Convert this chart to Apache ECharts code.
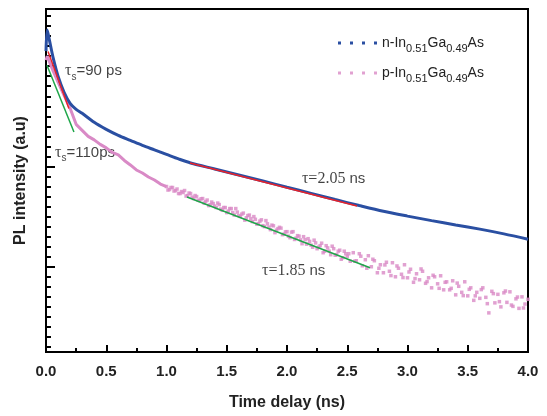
<!DOCTYPE html>
<html>
<head>
<meta charset="utf-8">
<script src="https://cdn.jsdelivr.net/npm/echarts@6/dist/echarts.min.js"></script>
<style>
html,body{margin:0;padding:0;background:#fff;}
#chart{width:547px;height:416px;}
</style>
</head>
<body>
<div id="chart"></div>
<script>
// log10 of PL intensity (a.u.)
var tBlue = [0, 0.01, 0.03, 0.06, 0.1, 0.15, 0.2, 0.25, 0.3, 0.4, 0.5, 0.6, 0.7, 0.8, 0.9, 1.0, 1.1, 1.2, 1.4, 1.6, 1.8, 2.0, 2.2, 2.4, 2.6, 2.8, 3.0, 3.2, 3.4, 3.6, 3.8, 4.0];
var logBlue = [3.15, 3.36, 3.25, 3.08, 2.9, 2.74, 2.63, 2.57, 2.53, 2.44, 2.37, 2.31, 2.26, 2.21, 2.165, 2.12, 2.075, 2.035, 1.975, 1.915, 1.855, 1.793, 1.732, 1.67, 1.61, 1.553, 1.505, 1.46, 1.417, 1.375, 1.328, 1.275];

var tPinkEarly = [0, 0.01, 0.03, 0.06, 0.1, 0.15, 0.2, 0.25, 0.3, 0.35, 0.4, 0.45, 0.5, 0.55, 0.6, 0.65, 0.7, 0.75, 0.8, 0.85, 0.9, 0.95, 1.0];
var logPinkEarly = [3.06, 3.1, 3.04, 2.95, 2.84, 2.71, 2.58, 2.42, 2.36, 2.3, 2.265, 2.22, 2.185, 2.14, 2.115, 2.06, 2.015, 1.965, 1.935, 1.895, 1.865, 1.825, 1.8];

var tPink = [1.0, 1.025, 1.05, 1.075, 1.1, 1.125, 1.15, 1.175, 1.2, 1.225, 1.25, 1.275, 1.3, 1.325, 1.35, 1.375, 1.4, 1.425, 1.45, 1.475,
  1.5, 1.525, 1.55, 1.575, 1.6, 1.625, 1.65, 1.675, 1.7, 1.725, 1.75, 1.775, 1.8, 1.825, 1.85, 1.875, 1.9, 1.925, 1.95, 1.975,
  2.0, 2.025, 2.05, 2.075, 2.1, 2.125, 2.15, 2.175, 2.2, 2.225, 2.25, 2.275, 2.3, 2.325, 2.35, 2.375, 2.4, 2.425, 2.45, 2.475,
  2.5, 2.525, 2.55, 2.575, 2.6, 2.625, 2.65, 2.675, 2.7, 2.725, 2.75, 2.775, 2.8, 2.825, 2.85, 2.875, 2.9, 2.925, 2.95, 2.975,
  3.0, 3.025, 3.05, 3.075, 3.1, 3.125, 3.15, 3.175, 3.2, 3.225, 3.25, 3.275, 3.3, 3.325, 3.35, 3.375, 3.4, 3.425, 3.45, 3.475,
  3.5, 3.525, 3.55, 3.575, 3.6, 3.625, 3.65, 3.675, 3.7, 3.725, 3.75, 3.775, 3.8, 3.825, 3.85, 3.875, 3.9, 3.925, 3.95, 3.975, 4.0,
  2.5125, 2.5625, 2.6125, 2.6625, 2.7125, 2.7625, 2.8125, 2.8625, 2.9125, 2.9625, 3.0125, 3.0625, 3.1125, 3.1625, 3.2125,
  3.2625, 3.3125, 3.3625, 3.4125, 3.4625, 3.5125, 3.5625, 3.6125, 3.6625, 3.7125, 3.7625, 3.8125, 3.8625, 3.9125, 3.9625,
  1.0125, 1.0375, 1.0625, 1.0875, 1.1125, 1.1375, 1.1625, 1.1875, 1.2125, 1.2375, 1.2625, 1.2875, 1.3125, 1.3375, 1.3625,
  1.3875, 1.4125, 1.4375, 1.4625, 1.4875, 1.5125, 1.5375, 1.5625, 1.5875, 1.6125, 1.6375, 1.6625, 1.6875, 1.7125, 1.7375,
  1.7625, 1.7875, 1.8125, 1.8375, 1.8625, 1.8875, 1.9125, 1.9375, 1.9625, 1.9875, 2.0125, 2.0375, 2.0625, 2.0875, 2.1125,
  2.1375, 2.1625, 2.1875, 2.2125, 2.2375, 2.2625, 2.2875, 2.3125, 2.3375, 2.3625, 2.3875, 2.4125, 2.4375, 2.4625, 2.4875];
var logPink = [1.80, 1.77, 1.79, 1.76, 1.73, 1.75, 1.76, 1.71, 1.73, 1.68, 1.70, 1.66, 1.68, 1.65, 1.61, 1.645, 1.605, 1.635, 1.575, 1.59,
  1.54, 1.58, 1.54, 1.58, 1.51, 1.525, 1.465, 1.51, 1.48, 1.50, 1.425, 1.455, 1.41, 1.46, 1.395, 1.415, 1.34, 1.38, 1.385, 1.325,
  1.35, 1.29, 1.35, 1.285, 1.305, 1.23, 1.27, 1.28, 1.215, 1.265, 1.18, 1.21, 1.14, 1.21, 1.155, 1.205, 1.115, 1.155, 1.075, 1.155,
  1.105, 1.055, 1.14, 1.06, 1.13, 1.01, 1.07, 1.11, 1.0, 1.06, 0.94, 1.02, 0.94, 1.045, 0.955, 1.04, 0.90, 0.985, 0.925, 1.02,
  0.89, 0.975, 0.845, 0.93, 0.87, 0.955, 0.835, 0.89, 0.79, 0.90, 0.83, 0.91, 0.77, 0.85, 0.77, 0.86, 0.72, 0.805, 0.745, 0.85,
  0.71, 0.79, 0.665, 0.745, 0.685, 0.79, 0.695, 0.54, 0.755, 0.64, 0.725, 0.60, 0.74, 0.645, 0.75, 0.605, 0.68, 0.585, 0.70, 0.628, 0.675,
  1.13, 1.055, 1.105, 0.985, 1.075, 0.985, 1.018, 0.912, 1.008, 0.892, 0.948, 0.882, 0.978, 0.852, 0.915,
  0.785, 0.845, 0.785, 0.837, 0.712, 0.775, 0.71, 0.772, 0.632, 0.732, 0.652, 0.758, 0.618, 0.698, 0.589,
  1.765, 1.79, 1.755, 1.775, 1.73, 1.74, 1.705, 1.735, 1.695, 1.71, 1.663, 1.678, 1.635, 1.665, 1.618,
  1.63, 1.59, 1.62, 1.563, 1.59, 1.555, 1.58, 1.515, 1.545, 1.502, 1.535, 1.488, 1.515, 1.45, 1.473,
  1.43, 1.468, 1.4, 1.428, 1.37, 1.408, 1.365, 1.393, 1.32, 1.348, 1.305, 1.345, 1.272, 1.31, 1.268,
  1.3, 1.225, 1.253, 1.195, 1.238, 1.195, 1.235, 1.155, 1.188, 1.12, 1.18, 1.12, 1.165, 1.09, 1.13];

// exponential fits (straight on the log axis)
var fitRedFast = [[0.017, 3.147], [0.19, 2.578]];
var fitGreenFast = [[0.008, 3.01], [0.232, 2.343]];
var fitRedSlow = [[1.195, 2.035], [2.581, 1.605]];
var fitGreenSlow = [[1.17, 1.696], [2.689, 0.99]];

var xTicks = ['0.0', '0.5', '1.0', '1.5', '2.0', '2.5', '3.0', '3.5', '4.0'];
var notes = [
	{ value: [0.158, 2.95], name: '{t|τ}{s|s}{a|=90 ps}' },
	{ value: [0.075, 2.137], name: '{t|τ}{s|s}{a|=110ps}' },
	{ value: [2.124, 1.873], name: '{t|τ=2.05 }{a|ns}' },
	{ value: [1.793, 0.961], name: '{t|τ=1.85 }{a|ns}' }
];

function pairs(xs, ys) {
	var out = [];
	for (var i = 0; i < xs.length; i++) out.push([xs[i], ys[i]]);
	return out;
}

var yMin = 0.15, yMax = 3.57;
var minorY = [];
for (var v = 2; v <= 35; v++) minorY.push(v / 10);

var sansFont = '"Liberation Sans", Arial, sans-serif';
var blue = '#2a4fa2', pink = '#d98ac6', red = '#e8232b', green = '#1fa64a';

var dom = document.getElementById('chart');
var myChart = echarts.init(dom);
var option = {
	animation: false,
	backgroundColor: '#fff',
	grid: {
		left: 46, right: 19, top: 9, bottom: 59,
		show: true, borderColor: '#000', borderWidth: 2
	},
	legend: {
		left: 333, top: 31, orient: 'vertical', itemGap: 12,
		itemWidth: 39, itemHeight: 3,
		icon: 'path://M0,0h3v3h-3z M12,0h3v3h-3z M24,0h3v3h-3z M36,0h3v3h-3z',
		data: ['n', 'p'],
		formatter: function(name) {
			return '{b|' + name + '-In}{s|0.51}{b|Ga}{s|0.49}{b|As}';
		},
		textStyle: {
			rich: {
				b: { fontFamily: sansFont, fontSize: 14, color: '#222', lineHeight: 22 },
				s: { fontFamily: sansFont, fontSize: 11, color: '#222', lineHeight: 22, verticalAlign: 'bottom' }
			}
		}
	},
	xAxis: {
		type: 'value', min: 0, max: 4, interval: 0.5,
		name: 'Time delay (ns)', nameLocation: 'middle', nameGap: 43,
		nameTextStyle: { fontFamily: sansFont, fontSize: 16, fontWeight: 'bold', color: '#222' },
		axisLine: { onZero: false, lineStyle: { color: '#000', width: 2 } },
		axisTick: { inside: true, length: 7, lineStyle: { color: '#000', width: 2 } },
		minorTick: { show: true, splitNumber: 2, length: 4, lineStyle: { color: '#000', width: 2 } },
		splitLine: { show: false },
		axisLabel: {
			margin: 12, fontFamily: sansFont, fontSize: 15, fontWeight: 'bold', color: '#222',
			formatter: function(val) { return xTicks[Math.round(val / 0.5)]; }
		}
	},
	yAxis: [{
		type: 'value', min: yMin, max: yMax,
		name: 'PL intensity (a.u)', nameLocation: 'middle', nameGap: 17,
		nameTextStyle: { fontFamily: sansFont, fontSize: 16, fontWeight: 'bold', color: '#222' },
		axisLine: { onZero: false, lineStyle: { color: '#000', width: 2 } },
		axisTick: { inside: true, length: 5, customValues: minorY, lineStyle: { color: '#000', width: 2 } },
		axisLabel: { show: false },
		splitLine: { show: false }
	}, {
		type: 'value', min: yMin, max: yMax, position: 'left',
		axisLine: { show: false },
		axisTick: { inside: true, length: 9, customValues: [1, 2, 3], lineStyle: { color: '#000', width: 2 } },
		axisLabel: { show: false },
		splitLine: { show: false }
	}],
	series: [{
		name: 'p', type: 'scatter', symbol: 'rect', symbolSize: 3.5,
		itemStyle: { color: pink },
		data: pairs(tPink, logPink)
	}, {
		name: 'p', type: 'line', showSymbol: false,
		itemStyle: { color: pink }, lineStyle: { color: pink, width: 3 },
		data: pairs(tPinkEarly, logPinkEarly)
	}, {
		name: 'n', type: 'line', showSymbol: false, smooth: 0.3,
		itemStyle: { color: blue }, lineStyle: { color: blue, width: 3 },
		data: pairs(tBlue, logBlue)
	}, {
		type: 'line', showSymbol: false, lineStyle: { color: red, width: 1.5 }, data: fitRedFast
	}, {
		type: 'line', showSymbol: false, lineStyle: { color: green, width: 1.5 }, data: fitGreenFast
	}, {
		type: 'line', showSymbol: false, lineStyle: { color: red, width: 1.5 }, data: fitRedSlow
	}, {
		type: 'line', showSymbol: false, lineStyle: { color: green, width: 1.5 }, data: fitGreenSlow
	}, {
		type: 'scatter', symbolSize: 0, data: notes,
		label: {
			show: true, position: 'right', distance: 0,
			formatter: function(p) { return p.name; },
			rich: {
				t: { fontFamily: '"Liberation Serif", "Times New Roman", serif', fontSize: 16, color: '#111', lineHeight: 22 },
				s: { fontFamily: sansFont, fontSize: 10, color: '#111', lineHeight: 22, verticalAlign: 'bottom' },
				a: { fontFamily: sansFont, fontSize: 15, color: '#111', lineHeight: 22 }
			}
		}
	}]
};
if (option && typeof option === "object") {
	myChart.setOption(option, true);
}
</script>
</body>
</html>
